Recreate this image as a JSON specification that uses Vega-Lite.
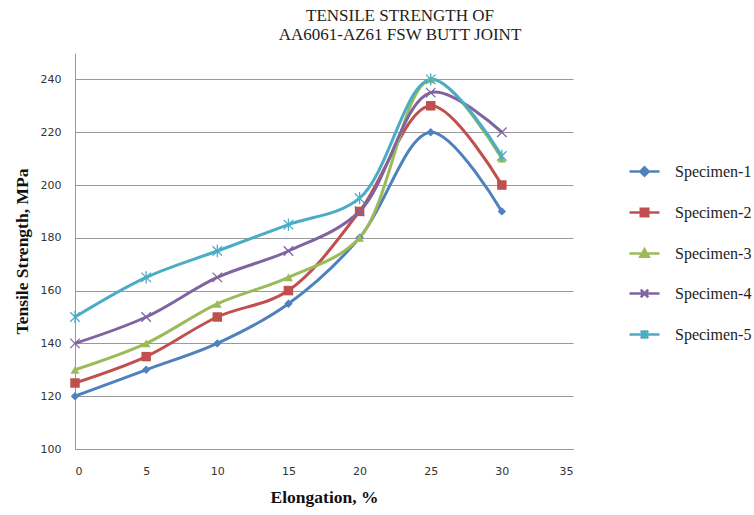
{
  "$schema": "https://vega.github.io/schema/vega-lite/v6.json",
  "autosize": "none",
  "width": 498,
  "height": 396,
  "padding": {"left": 75, "top": 53, "right": 181, "bottom": 66},
  "background": "white",
  "title": {
    "text": ["TENSILE STRENGTH OF", "AA6061-AZ61 FSW BUTT JOINT"],
    "font": "Liberation Serif",
    "fontSize": 17,
    "fontWeight": "normal",
    "color": "#222",
    "anchor": "middle",
    "dx": 76,
    "offset": 9,
    "lineHeight": 19
  },
  "config": {
    "view": {"stroke": null},
    "axis": {
      "labelFont": "DejaVu Sans",
      "labelFontSize": 11,
      "labelColor": "#333",
      "titleFont": "Liberation Serif",
      "titleFontSize": 17.5,
      "titleFontWeight": "bold",
      "titleColor": "#111",
      "gridColor": "#999",
      "gridWidth": 1,
      "domainColor": "#999",
      "ticks": false
    }
  },
  "data": {
    "values": [
      {"specimen": "Specimen-1", "elongation": 0, "strength": 120},
      {"specimen": "Specimen-1", "elongation": 5, "strength": 130},
      {"specimen": "Specimen-1", "elongation": 10, "strength": 140},
      {"specimen": "Specimen-1", "elongation": 15, "strength": 155},
      {"specimen": "Specimen-1", "elongation": 20, "strength": 180},
      {"specimen": "Specimen-1", "elongation": 25, "strength": 220},
      {"specimen": "Specimen-1", "elongation": 30, "strength": 190},
      {"specimen": "Specimen-2", "elongation": 0, "strength": 125},
      {"specimen": "Specimen-2", "elongation": 5, "strength": 135},
      {"specimen": "Specimen-2", "elongation": 10, "strength": 150},
      {"specimen": "Specimen-2", "elongation": 15, "strength": 160},
      {"specimen": "Specimen-2", "elongation": 20, "strength": 190},
      {"specimen": "Specimen-2", "elongation": 25, "strength": 230},
      {"specimen": "Specimen-2", "elongation": 30, "strength": 200},
      {"specimen": "Specimen-3", "elongation": 0, "strength": 130},
      {"specimen": "Specimen-3", "elongation": 5, "strength": 140},
      {"specimen": "Specimen-3", "elongation": 10, "strength": 155},
      {"specimen": "Specimen-3", "elongation": 15, "strength": 165},
      {"specimen": "Specimen-3", "elongation": 20, "strength": 180},
      {"specimen": "Specimen-3", "elongation": 25, "strength": 240},
      {"specimen": "Specimen-3", "elongation": 30, "strength": 210},
      {"specimen": "Specimen-4", "elongation": 0, "strength": 140},
      {"specimen": "Specimen-4", "elongation": 5, "strength": 150},
      {"specimen": "Specimen-4", "elongation": 10, "strength": 165},
      {"specimen": "Specimen-4", "elongation": 15, "strength": 175},
      {"specimen": "Specimen-4", "elongation": 20, "strength": 190},
      {"specimen": "Specimen-4", "elongation": 25, "strength": 235},
      {"specimen": "Specimen-4", "elongation": 30, "strength": 220},
      {"specimen": "Specimen-5", "elongation": 0, "strength": 150},
      {"specimen": "Specimen-5", "elongation": 5, "strength": 165},
      {"specimen": "Specimen-5", "elongation": 10, "strength": 175},
      {"specimen": "Specimen-5", "elongation": 15, "strength": 185},
      {"specimen": "Specimen-5", "elongation": 20, "strength": 195},
      {"specimen": "Specimen-5", "elongation": 25, "strength": 240},
      {"specimen": "Specimen-5", "elongation": 30, "strength": 211}
    ]
  },
  "encoding": {
    "x": {
      "field": "elongation",
      "type": "quantitative",
      "scale": {"domain": [0, 35], "nice": false},
      "axis": {
        "values": [0, 5, 10, 15, 20, 25, 30, 35],
        "grid": false,
        "title": "Elongation,  %",
        "labelPadding": 16,
        "titlePadding": 12
      }
    },
    "y": {
      "field": "strength",
      "type": "quantitative",
      "scale": {"domain": [100, 250], "nice": false, "zero": false},
      "axis": {
        "values": [100, 120, 140, 160, 180, 200, 220, 240],
        "title": "Tensile Strength, MPa",
        "labelPadding": 14,
        "titlePadding": 9
      }
    },
    "color": {
      "field": "specimen",
      "type": "nominal",
      "scale": {
        "domain": ["Specimen-1", "Specimen-2", "Specimen-3", "Specimen-4", "Specimen-5"],
        "range": ["#4F81BD", "#C0504D", "#9BBB59", "#8064A2", "#4BACC6"]
      },
      "legend": {
        "title": null,
        "orient": "none",
        "legendX": 553,
        "legendY": 102,
        "padding": 0,
        "symbolSize": 900,
        "symbolStrokeWidth": 2.5,
        "symbolType": {"expr": "datum.value === 'Specimen-1' ? 'M-1,0H1M0,-0.28L0.28,0L0,0.28L-0.28,0Z' : datum.value === 'Specimen-2' ? 'M-1,0H1M-0.25,-0.25H0.25V0.25H-0.25Z' : datum.value === 'Specimen-3' ? 'M-1,0H1M0,-0.28L0.28,0.22H-0.28Z' : datum.value === 'Specimen-4' ? 'M-1,0H1M-0.25,-0.25L0.25,0.25M0.25,-0.25L-0.25,0.25' : 'M-1,0H1M-0.25,-0.25L0.25,0.25M0.25,-0.25L-0.25,0.25M0,-0.3L0,0.3'"},
        "rowPadding": 15,
        "labelOffset": 14,
        "labelFont": "Liberation Serif",
        "labelFontSize": 16,
        "labelColor": "#222",
        "labelLimit": 300,
        "encode": {
          "symbols": {
            "update": {
              "fill": {"scale": "color", "field": "value"},
              "stroke": {"scale": "color", "field": "value"},
              "strokeWidth": {"value": 2.5},
              "opacity": {"value": 1}
            }
          }
        }
      }
    }
  },
  "layer": [
    {
      "mark": {"type": "line", "interpolate": "catmull-rom", "strokeWidth": 3}
    },
    {
      "transform": [{"filter": "datum.specimen === 'Specimen-1'"}],
      "mark": {"type": "point", "filled": true, "opacity": 1, "shape": "diamond", "size": 70}
    },
    {
      "transform": [{"filter": "datum.specimen === 'Specimen-2'"}],
      "mark": {"type": "point", "filled": true, "opacity": 1, "shape": "square", "size": 90}
    },
    {
      "transform": [{"filter": "datum.specimen === 'Specimen-3'"}],
      "mark": {"type": "point", "filled": true, "opacity": 1, "shape": "triangle-up", "size": 80}
    },
    {
      "transform": [{"filter": "datum.specimen === 'Specimen-4'"}],
      "mark": {"type": "point", "filled": false, "opacity": 1, "strokeWidth": 1.3, "shape": "M-1,-1L1,1M1,-1L-1,1", "size": 90}
    },
    {
      "transform": [{"filter": "datum.specimen === 'Specimen-5'"}],
      "mark": {"type": "point", "filled": false, "opacity": 1, "strokeWidth": 1.3, "shape": "M-1,-1L1,1M1,-1L-1,1M0,-1.3L0,1.3", "size": 90}
    }
  ]
}
